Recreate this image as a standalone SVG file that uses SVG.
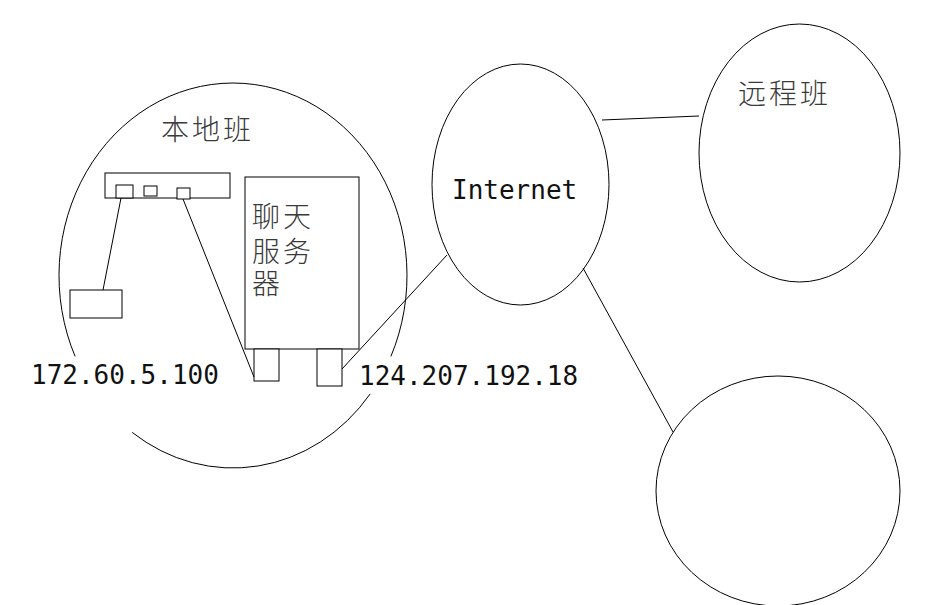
<svg xmlns="http://www.w3.org/2000/svg" width="951" height="605" viewBox="0 0 951 605">
<style>
.s{fill:none;stroke:#000;stroke-width:1}
.b{fill:#fff;stroke:#000;stroke-width:1}
.cjk{font-family:"Noto Sans CJK SC","Noto Sans CJK JP",sans-serif;font-size:28px;font-weight:300;fill:#3a3a3a;letter-spacing:3px}
.mono{font-family:"DejaVu Sans Mono","Liberation Mono",monospace;font-size:26px;fill:#111}
</style>
<rect width="951" height="605" fill="#fff"/>
<g id="local-class">
<path class="s" d="M390.9 356.4 A174 192.5 0 1 0 75.1 356.4"/>
<path class="s" d="M370.2 393.9 A174 192.5 0 0 1 132.2 432.4"/>
<text class="cjk" x="161" y="140">本地班</text>
</g>
<g id="internet">
<ellipse class="s" cx="520.5" cy="184.5" rx="88.5" ry="120.5"/>
<text class="mono" x="452" y="199">Internet</text>
</g>
<g id="remote-class">
<ellipse class="s" cx="799.5" cy="153" rx="100.5" ry="129"/>
<text class="cjk" x="738" y="104">远程班</text>
</g>
<g id="remote-2">
<ellipse class="s" cx="778" cy="491" rx="122" ry="115"/>
</g>
<g id="router">
<rect class="b" x="105" y="173" width="125" height="25"/>
<rect class="b" x="116" y="185" width="17" height="13"/>
<rect class="b" x="144" y="186" width="13" height="10"/>
<rect class="b" x="177" y="188" width="13" height="11"/>
</g>
<g id="pc">
<rect class="b" x="70" y="290" width="52" height="28"/>
</g>
<g id="server">
<rect class="b" x="245" y="177" width="114" height="172"/>
<rect class="b" x="254" y="349" width="25" height="32"/>
<rect class="b" x="317" y="349" width="25" height="37"/>
<text class="cjk" x="252" y="227">聊天</text>
<text class="cjk" x="252" y="262">服务</text>
<text class="cjk" x="252" y="294">器</text>
</g>
<g id="labels">
<text class="mono" x="31" y="384">172.60.5.100</text>
<text class="mono" x="359" y="385">124.207.192.18</text>
</g>
<g id="connectors">
<line class="s" x1="121" y1="198" x2="103" y2="290"/>
<line class="s" x1="183" y1="199" x2="254" y2="377"/>
<line class="s" x1="342" y1="369" x2="447" y2="255"/>
<line class="s" x1="602" y1="120" x2="699" y2="116"/>
<line class="s" x1="583" y1="268" x2="673" y2="432"/>
</g>
</svg>
